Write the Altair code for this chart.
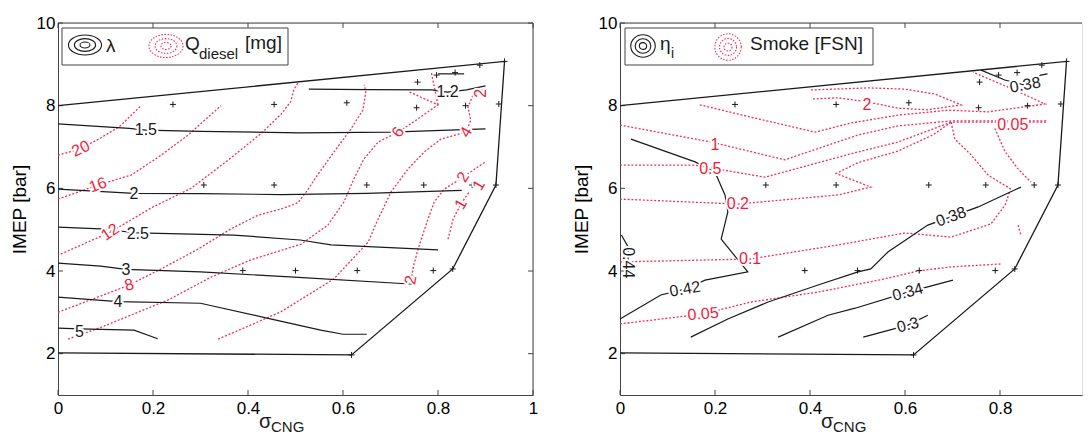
import altair as alt
import pandas as pd

FONT = "Liberation Sans"
BLACK = "#1a1a1a"
AX = "#444444"
RED_LINE = "#e8325f"
RED_TEXT = "#ee1c3c"
W, H = 475, 372
W_RIGHT = 462          # right panel is cut at the image edge
X_MAX_RIGHT = 0.9726

# ---------------- shared data ----------------
X_TICKS_LEFT = [0, 0.2, 0.4, 0.6, 0.8, 1]
X_TICKS_RIGHT = [0, 0.2, 0.4, 0.6, 0.8]
Y_TICKS = [2, 4, 6, 8, 10]

op_x = [0.242, 0.455, 0.608, 0.755, 0.757, 0.797, 0.836, 0.888, 0.858, 0.928, 0.94,
        0.307, 0.455, 0.65, 0.77, 0.872, 0.922,
        0.389, 0.5, 0.63, 0.79, 0.831, 0.618]
op_y = [8.03, 8.03, 8.07, 7.95, 8.57, 8.74, 8.80, 8.98, 8.0, 8.04, 9.07,
        6.08, 6.08, 6.08, 6.08, 6.08, 6.08,
        4.01, 4.01, 4.01, 4.01, 4.05, 1.97]

boundary = [(0, 8.0), (0.94, 9.07), (0.922, 6.08), (0.831, 4.05), (0.618, 1.97), (0, 2.02)]

# ---------------- left panel: lambda (black) ----------------
lam_12 = [(0.528, 8.40), (0.65, 8.39), (0.787, 8.38), (0.82, 8.33), (0.86, 8.38), (0.90, 8.48)]
lam_12b = [(0.80, 8.77), (0.855, 8.77)]
lam_15 = [(0, 7.56), (0.15, 7.45), (0.185, 7.41), (0.3, 7.38), (0.51, 7.34), (0.7, 7.36), (0.9, 7.44)]
lam_2 = [(0, 5.98), (0.16, 5.88), (0.3, 5.87), (0.47, 5.85), (0.65, 5.88), (0.85, 5.95)]
lam_25 = [(0, 5.06), (0.09, 5.02), (0.168, 4.92), (0.37, 4.87), (0.51, 4.75), (0.575, 4.63), (0.80, 4.51)]
lam_3 = [(0, 4.19), (0.09, 4.12), (0.143, 4.04), (0.30, 3.98), (0.497, 3.85), (0.75, 3.68)]
lam_4 = [(0, 3.37), (0.126, 3.26), (0.30, 3.22), (0.44, 2.86), (0.553, 2.57), (0.60, 2.47), (0.65, 2.47)]
lam_5 = [(0, 2.62), (0.045, 2.60), (0.16, 2.57), (0.21, 2.36)]

# ---------------- left panel: Q_diesel (red dotted) ----------------
q_20 = [(0, 6.8), (0.048, 6.96), (0.09, 7.22), (0.13, 7.5), (0.175, 8.0)]
q_16 = [(0, 5.74), (0.084, 6.08), (0.154, 6.32), (0.217, 6.8), (0.274, 7.29), (0.343, 8.0)]
q_12 = [(0.006, 4.41), (0.11, 4.94), (0.2, 5.55), (0.28, 6.0), (0.36, 6.7), (0.43, 7.35),
        (0.47, 7.8), (0.49, 8.1), (0.497, 8.4), (0.505, 8.55)]
q_8 = [(0, 3.0), (0.15, 3.66), (0.217, 4.05), (0.295, 4.53), (0.364, 5.02), (0.421, 5.35),
       (0.47, 5.5), (0.505, 5.65), (0.525, 5.95), (0.543, 6.27), (0.581, 6.88), (0.617, 7.44),
       (0.642, 7.9), (0.648, 8.33), (0.645, 8.5)]
q_6 = [(0.021, 2.35), (0.091, 2.64), (0.232, 3.30), (0.322, 3.85), (0.406, 4.27), (0.512, 4.65),
       (0.568, 5.11), (0.602, 5.67), (0.623, 6.23), (0.644, 6.71), (0.674, 7.12), (0.716, 7.36),
       (0.754, 7.65), (0.80, 8.02), (0.74, 8.33)]
q_6b = [(0.80, 8.02), (0.786, 8.8)]
q_4 = [(0.337, 2.35), (0.469, 3.01), (0.581, 3.81), (0.653, 4.70), (0.674, 5.26), (0.701, 5.91),
       (0.737, 6.47), (0.771, 6.88), (0.806, 7.19), (0.859, 7.36), (0.869, 7.65), (0.863, 7.97),
       (0.874, 8.26), (0.90, 8.42)]
q_2 = [(0.743, 3.78), (0.749, 4.14), (0.758, 4.53), (0.779, 5.26), (0.792, 5.67), (0.813, 5.98),
       (0.853, 6.27), (0.884, 6.52), (0.90, 6.64)]
q_1 = [(0.821, 4.77), (0.832, 5.26), (0.848, 5.62), (0.865, 5.9)]

lam_labels = [("1.2", 0.82, 8.33, 0), ("1.5", 0.185, 7.41, 0), ("2", 0.16, 5.86, 0),
              ("2.5", 0.168, 4.9, 0), ("3", 0.143, 4.02, 0), ("4", 0.126, 3.25, 0), ("5", 0.045, 2.52, 0)]
q_labels = [("20", 0.048, 6.96, 335), ("16", 0.084, 6.08, 340), ("12", 0.11, 4.94, 325),
            ("8", 0.15, 3.66, 345), ("6", 0.716, 7.36, 300), ("4", 0.859, 7.36, 300),
            ("2", 0.743, 3.78, 280), ("2", 0.853, 6.27, 300), ("1", 0.848, 5.62, 300),
            ("1", 0.886, 6.08, 300), ("2", 0.89, 8.3, 270)]

# ---------------- right panel: eta_i (black) ----------------
eta_038a = [(0.76, 8.86), (0.81, 8.62), (0.853, 8.5), (0.886, 8.74), (0.90, 8.77)]
eta_042 = [(0.023, 7.19), (0.158, 6.64), (0.20, 6.39), (0.221, 5.84), (0.227, 5.43), (0.213, 4.77),
           (0.269, 3.98), (0.179, 3.78), (0.137, 3.56), (0.086, 3.42), (0.0, 2.84)]
eta_044 = [(0.003, 4.87), (0.017, 4.58), (0.017, 4.2), (0.02, 3.9)]
eta_038b = [(0.149, 2.40), (0.227, 2.84), (0.312, 3.25), (0.417, 3.66), (0.501, 3.98), (0.528, 4.05),
            (0.564, 4.46), (0.648, 5.11), (0.697, 5.31), (0.754, 5.55), (0.844, 6.03)]
eta_034 = [(0.333, 2.40), (0.438, 2.93), (0.495, 3.10), (0.606, 3.49), (0.701, 3.78)]
eta_030 = [(0.512, 2.40), (0.606, 2.69), (0.648, 2.93)]

# ---------------- right panel: smoke (red dotted) ----------------
s_2 = [(0.402, 8.38), (0.522, 8.43), (0.60, 8.40), (0.663, 8.28), (0.718, 8.02), (0.648, 7.90),
       (0.585, 7.94), (0.522, 8.09), (0.459, 8.19), (0.402, 8.16)]
s_1a = [(0.168, 8.02), (0.291, 7.68), (0.411, 7.36), (0.486, 7.58), (0.585, 7.77), (0.691, 7.89),
        (0.775, 7.85), (0.895, 8.04), (0.817, 8.45), (0.743, 8.81)]
s_1b = [(0, 7.53), (0.192, 7.12), (0.347, 6.69), (0.501, 7.29), (0.585, 7.51), (0.697, 7.63), (0.90, 7.63)]
s_05 = [(0, 6.56), (0.158, 6.56), (0.305, 6.27), (0.501, 6.88), (0.585, 7.12), (0.697, 7.60), (0.90, 7.60)]
s_02 = [(0, 5.74), (0.248, 5.62), (0.459, 5.84), (0.528, 6.03), (0.455, 6.36), (0.501, 6.62),
        (0.585, 6.9), (0.66, 7.3), (0.697, 7.6)]
s_d1 = [(0.697, 7.6), (0.705, 7.19), (0.739, 6.81), (0.775, 6.32), (0.823, 5.98)]
s_d2 = [(0.789, 7.45), (0.811, 6.88), (0.838, 6.47), (0.865, 6.15)]
s_01 = [(0, 4.22), (0.274, 4.29), (0.459, 4.63), (0.60, 4.92), (0.697, 4.82), (0.781, 5.14),
        (0.811, 5.6), (0.82, 5.91)]
s_01b = [(0.838, 5.11), (0.844, 4.87)]
s_005 = [(0, 2.72), (0.175, 2.96), (0.276, 3.25), (0.417, 3.49), (0.558, 3.81), (0.627, 4.0),
         (0.697, 4.10), (0.802, 4.17)]

eta_labels = [("0.38", 0.853, 8.5, 350), ("0.42", 0.137, 3.56, 350), ("0.44", 0.017, 4.2, 90),
              ("0.38", 0.697, 5.31, 340), ("0.34", 0.606, 3.49, 345), ("0.3", 0.606, 2.69, 345)]
s_labels = [("2", 0.52, 8.02, 0), ("1", 0.2, 7.05, 0), ("0.5", 0.19, 6.47, 0), ("0.2", 0.248, 5.62, 0),
            ("0.1", 0.274, 4.29, 0), ("0.05", 0.175, 2.96, 355), ("0.05", 0.827, 7.53, 0)]


# ---------------- helpers ----------------
def lines_df(named):
    rows = []
    for name, pts in named.items():
        for i, (x, y) in enumerate(pts):
            rows.append({"id": name, "o": i, "x": x, "y": y})
    return pd.DataFrame(rows)


def labels_df(lst):
    return pd.DataFrame([{"t": t, "x": x, "y": y, "a": a} for t, x, y, a in lst])


def ell(rx, ry):
    k = 0.5523
    f = lambda v: f"{v:.3f}"
    return (f"M{f(rx)},0C{f(rx)},{f(k*ry)} {f(k*rx)},{f(ry)} 0,{f(ry)}"
            f"C{f(-k*rx)},{f(ry)} {f(-rx)},{f(k*ry)} {f(-rx)},0"
            f"C{f(-rx)},{f(-k*ry)} {f(-k*rx)},{f(-ry)} 0,{f(-ry)}"
            f"C{f(k*rx)},{f(-ry)} {f(rx)},{f(-k*ry)} {f(rx)},0Z")


def rings(ratio):
    return ell(1, ratio) + ell(0.64, 0.64 * ratio) + ell(0.3, 0.3 * ratio)


PLUS = "M-1,0L1,0M0,-1L0,1"
one = pd.DataFrame({"d": [0]})


def make_x(ticks, xmax):
    return alt.X("x:Q", scale=alt.Scale(domain=[0, xmax], nice=False, zero=False),
                 axis=alt.Axis(values=ticks, format="~g", title=None, ticks=False, grid=False,
                               labelFontSize=17, labelPadding=5, labelFont=FONT, labelColor="black",
                               domainColor=AX, labelFlush=False, labelOverlap=False))


Y = alt.Y("y:Q", scale=alt.Scale(domain=[1, 10], nice=False, zero=False),
          axis=alt.Axis(values=Y_TICKS, format="d", title="IMEP [bar]", titleFontSize=19,
                        titleFont=FONT, titleFontWeight="normal", titleColor="black", titlePadding=6.5,
                        ticks=False, grid=False, labelFontSize=17, labelPadding=3, labelFont=FONT,
                        labelColor="black", domainColor=AX, labelFlush=False, labelOverlap=False))


def txt(t, x, y, size, color=BLACK, align="left", baseline="middle"):
    return alt.Chart(one).mark_text(text=t, fontSize=size, font=FONT, color=color, align=align,
                                    baseline=baseline).encode(x=alt.value(x), y=alt.value(y))


def icon(x, y, ratio, size, color, dashed):
    kw = dict(shape=rings(ratio), size=size, filled=False, stroke=color, strokeWidth=1.1, opacity=1)
    if dashed:
        kw["strokeDash"] = [1.5, 1.5]
    return alt.Chart(one).mark_point(**kw).encode(x=alt.value(x), y=alt.value(y))


def panel(X, xticks, width, black, red, blabels, rlabels, legend, right_border):
    layers = []
    xt = pd.DataFrame({"x": xticks})
    yt = pd.DataFrame({"y": Y_TICKS})
    bd = lines_df({"b": boundary})
    # inside ticks and box
    layers.append(alt.Chart(xt).mark_rule(color=AX, strokeWidth=1).encode(x=X, y=alt.value(H), y2=alt.value(H - 5)))
    layers.append(alt.Chart(xt).mark_rule(color=AX, strokeWidth=1).encode(x=X, y=alt.value(0), y2=alt.value(5)))
    layers.append(alt.Chart(yt).mark_rule(color=AX, strokeWidth=1).encode(y=Y, x=alt.value(0), x2=alt.value(5)))
    if right_border:
        layers.append(alt.Chart(yt).mark_rule(color=AX, strokeWidth=1).encode(y=Y, x=alt.value(width - 5), x2=alt.value(width)))
        layers.append(alt.Chart(one).mark_rule(color=AX, strokeWidth=1).encode(x=alt.value(width), y=alt.value(0), y2=alt.value(H)))
    layers.append(alt.Chart(one).mark_rule(color=AX, strokeWidth=1).encode(x=alt.value(0), x2=alt.value(width), y=alt.value(0)))
    # contour lines
    layers.append(alt.Chart(lines_df(red)).mark_line(color=RED_LINE, strokeWidth=1.3, strokeDash=[2, 1.8])
                  .encode(x=X, y=Y, detail="id:N", order="o:Q"))
    layers.append(alt.Chart(lines_df(black)).mark_line(color=BLACK, strokeWidth=1.2)
                  .encode(x=X, y=Y, detail="id:N", order="o:Q"))
    layers.append(alt.Chart(bd).mark_line(color=BLACK, strokeWidth=1.3).encode(x=X, y=Y, order="o:Q"))
    # operating points
    layers.append(alt.Chart(pd.DataFrame({"x": op_x, "y": op_y}))
                  .mark_point(shape=PLUS, size=36, filled=False, stroke=BLACK, strokeWidth=1, opacity=1)
                  .encode(x=X, y=Y))
    # contour labels with halo
    for lab in (blabels, rlabels):
        layers.append(alt.Chart(labels_df(lab)).mark_text(font=FONT, fontSize=16, color="white", stroke="white",
                                                          strokeWidth=4, strokeJoin="round")
                      .encode(x=X, y=Y, text="t:N", angle=alt.Angle("a:Q", scale=None)))
    for lab, col in ((blabels, BLACK), (rlabels, RED_TEXT)):
        layers.append(alt.Chart(labels_df(lab)).mark_text(font=FONT, fontSize=16, color=col)
                      .encode(x=X, y=Y, text="t:N", angle=alt.Angle("a:Q", scale=None)))
    # x title  sigma_CNG
    layers.append(txt("σ", 201, H + 33, 20, baseline="alphabetic"))
    layers.append(txt("CNG", 213, H + 37, 15, baseline="alphabetic"))
    layers.extend(legend)
    return alt.layer(*layers).properties(width=width, height=H)


left_legend = [
    alt.Chart(one).mark_rect(fill="white", stroke=AX, strokeWidth=1)
    .encode(x=alt.value(4), x2=alt.value(230), y=alt.value(5), y2=alt.value(42)),
    icon(27, 22, 0.6, 1100, BLACK, False),
    txt("λ", 48, 23, 19),
    icon(108, 23, 0.68, 1160, RED_LINE, True),
    txt("Q", 127, 21, 19),
    txt("diesel", 141, 31, 15),
    txt("[mg]", 187, 20, 19),
]
right_legend = [
    alt.Chart(one).mark_rect(fill="white", stroke=AX, strokeWidth=1)
    .encode(x=alt.value(5), x2=alt.value(253), y=alt.value(5), y2=alt.value(42)),
    icon(23, 23, 0.92, 600, BLACK, False),
    txt("η", 40, 21, 19),
    txt("i", 51, 31, 14),
    icon(108, 24, 1.0, 700, RED_LINE, True),
    txt("Smoke [FSN]", 130, 21, 19),
]

left = panel(make_x(X_TICKS_LEFT, 1), X_TICKS_LEFT, W,
             {"l12": lam_12, "l12b": lam_12b, "l15": lam_15, "l2": lam_2, "l25": lam_25,
              "l3": lam_3, "l4": lam_4, "l5": lam_5},
             {"q20": q_20, "q16": q_16, "q12": q_12, "q8": q_8, "q6": q_6, "q6b": q_6b,
              "q4": q_4, "q2": q_2, "q1": q_1},
             lam_labels, q_labels, left_legend, True)
right = panel(make_x(X_TICKS_RIGHT, X_MAX_RIGHT), X_TICKS_RIGHT, W_RIGHT,
              {"e38a": eta_038a, "e42": eta_042, "e44": eta_044, "e38b": eta_038b,
               "e34": eta_034, "e30": eta_030},
              {"s2": s_2, "s1a": s_1a, "s1b": s_1b, "s05": s_05, "s02": s_02, "sd1": s_d1,
               "sd2": s_d2, "s01": s_01, "s01b": s_01b, "s005": s_005},
              eta_labels, s_labels, right_legend, False)

chart = (alt.hconcat(left, right, spacing=33)
         .properties(padding={"left": 2, "top": 5, "right": 0, "bottom": 0})
         .configure_view(stroke=None)
         .configure(background="white"))

chart.save("out.html", embed_options={"renderer": "svg", "actions": False})
